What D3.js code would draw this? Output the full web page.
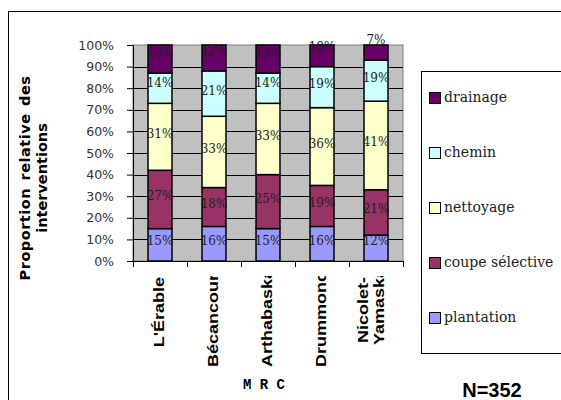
<!DOCTYPE html>
<html>
<head>
<meta charset="utf-8">
<script src="https://cdn.jsdelivr.net/npm/d3@7"></script>
<style>
  html, body { margin: 0; padding: 0; background: #fff; }
  svg { display: block; }
</style>
</head>
<body>
<svg id="chart" width="561" height="400"></svg>
<script>
// MRC (regional county municipalities) along the x axis
const categories = ["L'Érable", "Bécancour", "Arthabaska", "Drummond", "Nicolet-Yamaska"];
// Share of interventions per type, in percent, bottom to top of each bar
const plantation = [15, 16, 15, 16, 12];
const coupeSelective = [27, 18, 25, 19, 21];
const nettoyage = [31, 33, 33, 36, 41];
const chemin = [14, 21, 14, 19, 19];
const drainage = [13, 12, 13, 10, 7];
const seriesNames = ["plantation", "coupe sélective", "nettoyage", "chemin", "drainage"];
const seriesValues = [plantation, coupeSelective, nettoyage, chemin, drainage];
const seriesColors = ["#9999FF", "#993366", "#FFFFCC", "#CCFFFF", "#660066"];
const yTicks = [0, 0.1, 0.2, 0.3, 0.4, 0.5, 0.6, 0.7, 0.8, 0.9, 1];
const sampleSize = "N=352";

const svg = d3.select("#chart");

// outer frame
svg.append("rect")
  .attr("x", 8.5).attr("y", 11.5).attr("width", 600).attr("height", 400)
  .attr("fill", "none").attr("stroke", "#000").attr("stroke-width", 1);

const plot = { left: 133, right: 403, top: 45, bottom: 261 };

const x = d3.scaleBand()
  .domain(categories)
  .range([plot.left, plot.right])
  .paddingInner(0.556)
  .paddingOuter(0.278);

const y = d3.scaleLinear().domain([0, 1]).range([plot.bottom, plot.top]);

// table of rows for the stack
const rows = categories.map((c, i) => {
  const r = { category: c };
  seriesNames.forEach((s, k) => { r[s] = seriesValues[k][i]; });
  return r;
});
const stacked = d3.stack().keys(seriesNames).offset(d3.stackOffsetExpand)(rows);
const color = d3.scaleOrdinal().domain(seriesNames).range(seriesColors);

// plot background
svg.append("rect")
  .attr("x", plot.left).attr("y", plot.top)
  .attr("width", plot.right - plot.left).attr("height", plot.bottom - plot.top)
  .attr("fill", "#C0C0C0").attr("stroke", "#808080").attr("stroke-width", 1);

// horizontal gridlines
svg.append("g").selectAll("line")
  .data(yTicks.filter(t => t > 0 && t < 1))
  .join("line")
  .attr("x1", plot.left).attr("x2", plot.right)
  .attr("y1", d => Math.round(y(d)) + 0.5).attr("y2", d => Math.round(y(d)) + 0.5)
  .attr("stroke", "#000").attr("stroke-width", 1);

// y axis
const yAxis = svg.append("g")
  .attr("transform", `translate(${plot.left},0)`)
  .call(d3.axisLeft(y).tickValues(yTicks).tickFormat(d3.format(".0%")).tickSize(6).tickPadding(13));
yAxis.select(".domain").attr("stroke", "#000");
yAxis.selectAll(".tick line").attr("stroke", "#000");
yAxis.selectAll(".tick text")
  .attr("font-family", "DejaVu Sans").attr("font-size", 12.5).attr("fill", "#333");

// x axis baseline and ticks between categories
const step = x.step();
const boundaries = categories.map(c => x(c) - (step - x.bandwidth()) / 2)
  .concat([x(categories[categories.length - 1]) + x.bandwidth() + (step - x.bandwidth()) / 2]);
svg.append("line")
  .attr("x1", plot.left).attr("x2", plot.right)
  .attr("y1", plot.bottom + 0.5).attr("y2", plot.bottom + 0.5)
  .attr("stroke", "#000");
svg.append("g").selectAll("line").data(boundaries).join("line")
  .attr("x1", d => Math.round(d) + 0.5).attr("x2", d => Math.round(d) + 0.5)
  .attr("y1", plot.bottom).attr("y2", plot.bottom + 6)
  .attr("stroke", "#000");

// stacked bars
const layers = svg.append("g").selectAll("g").data(stacked).join("g")
  .attr("fill", d => color(d.key));
layers.selectAll("rect").data(d => d).join("rect")
  .attr("x", d => x(d.data.category))
  .attr("width", x.bandwidth())
  .attr("y", d => y(d[1]))
  .attr("height", d => y(d[0]) - y(d[1]))
  .attr("stroke", "#000").attr("stroke-width", 1.5);

// value labels: centred in each segment, thin segments push the label upward
const labels = svg.append("g")
  .attr("font-family", "DejaVu Serif").attr("font-size", 12).attr("fill", "#222")
  .attr("text-anchor", "middle");
stacked.forEach(layer => {
  labels.selectAll(null).data(layer).join("text")
    .attr("x", d => x(d.data.category) + x.bandwidth() / 2)
    .attr("y", d => {
      const h = y(d[0]) - y(d[1]);
      return (y(d[0]) + y(d[1])) / 2 + 1 - Math.max(0, 34 - h) * 0.5;
    })
    .text(d => d.data[layer.key] + "%");
});

// category labels: rotated, hung from the axis; a label longer than its box
// starts at the bottom of the box and loses its end under the axis
const labTop = 277;
const stretch = 1.2;
const xl = svg.append("g")
  .attr("font-family", "Liberation Sans, Arial, sans-serif").attr("font-weight", "bold")
  .attr("font-size", 15).attr("fill", "#000");
categories.forEach((c, ci) => {
  const cx = x(c) + x.bandwidth() / 2;
  const parts = c.includes("-") ? [c.split("-")[0] + "-", c.split("-")[1]] : [c];
  const boxH = parts.length === 1 ? 90 : 68;
  const clipId = "xlab-clip-" + ci;
  svg.append("clipPath").attr("id", clipId)
    .append("rect").attr("x", cx - 27).attr("y", labTop - 1).attr("width", 54).attr("height", boxH + 1);
  const g = xl.append("g").attr("clip-path", `url(#${clipId})`);
  parts.forEach((p, i) => {
    const off = parts.length === 1 ? 4 : (i === 0 ? -8 : 8);
    const t = g.append("text").text(p);
    const len = t.node().getComputedTextLength() * stretch;
    if (len > boxH) {
      t.attr("text-anchor", "start")
        .attr("transform", `translate(${cx + off},${labTop + boxH}) rotate(-90) scale(${stretch},1)`);
    } else {
      t.attr("text-anchor", "end")
        .attr("transform", `translate(${cx + off},${labTop}) rotate(-90) scale(${stretch},1)`);
    }
  });
});

// axis titles
const yTitle = svg.append("g")
  .attr("font-family", "DejaVu Sans").attr("font-weight", "bold")
  .attr("font-size", 14.5).attr("fill", "#000").attr("text-anchor", "middle");
yTitle.append("text").attr("transform", "translate(30,178) rotate(-90)")
  .style("letter-spacing", "0.5px").style("word-spacing", "2px").text("Proportion relative des");
yTitle.append("text").attr("transform", "translate(47,178) rotate(-90)")
  .text("interventions");

svg.append("text")
  .attr("x", 264).attr("y", 389)
  .attr("font-family", "Liberation Mono, Courier New, monospace").attr("font-weight", "bold")
  .attr("font-size", 14).attr("text-anchor", "middle").attr("fill", "#000")
  .text("M R C");

svg.append("text")
  .attr("x", 492).attr("y", 397)
  .attr("font-family", "Liberation Sans, Arial, sans-serif").attr("font-weight", "bold")
  .attr("font-size", 20).attr("text-anchor", "middle").attr("fill", "#000")
  .text(sampleSize);

// legend, top entry is the top of the stack
const legend = svg.append("g");
legend.append("rect")
  .attr("x", 421.5).attr("y", 71.5).attr("width", 200).attr("height", 282)
  .attr("fill", "#fff").attr("stroke", "#000");
const legendOrder = seriesNames.slice().reverse();
const ly = d3.scalePoint().domain(legendOrder).range([98, 318]);
const items = legend.selectAll("g.item").data(legendOrder).join("g").attr("class", "item")
  .attr("transform", d => `translate(0,${ly(d)})`);
items.append("rect")
  .attr("x", 429.5).attr("y", -5.5).attr("width", 11).attr("height", 11)
  .attr("fill", d => color(d)).attr("stroke", "#000");
items.append("text")
  .attr("x", 444).attr("y", 4)
  .attr("font-family", "DejaVu Serif").attr("font-size", 14).attr("fill", "#222")
  .text(d => d);
</script>
</body>
</html>
